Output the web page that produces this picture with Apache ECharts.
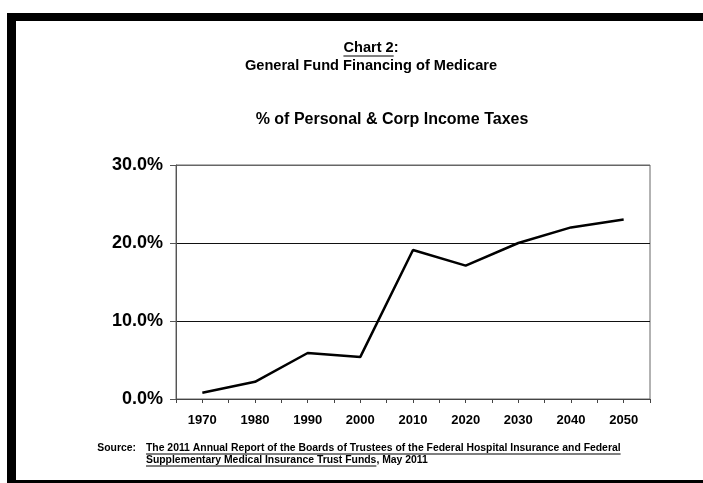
<!DOCTYPE html>
<html>
<head>
<meta charset="utf-8">
<script src="https://cdn.jsdelivr.net/npm/echarts@6/dist/echarts.min.js"></script>
<style>
  html, body { margin: 0; padding: 0; background: #fff; }
  #chart { width: 703px; height: 483px; }
</style>
</head>
<body>
<div id="chart"></div>
<script>
// Decades on the horizontal axis
const years = ['1970', '1980', '1990', '2000', '2010', '2020', '2030', '2040', '2050'];
// General fund financing as % of personal & corporate income taxes
const sharePct = [0.8, 2.2, 5.9, 5.4, 19.1, 17.1, 20.0, 22.0, 23.0];
// Vertical axis ticks (percent)
const yTicks = [0, 10, 20, 30];

const chartLabel = 'Chart 2';
const titleLine2 = 'General Fund Financing of Medicare';
const subTitle = '% of Personal & Corp Income Taxes';
const sourceLabel = 'Source:';
const sourceLine1 = 'The 2011 Annual Report of the Boards of Trustees of the Federal Hospital Insurance and Federal';
const sourceLine2a = 'Supplementary Medical Insurance Trust Funds';
const sourceLine2b = ', May 2011';

const FONT = '"Liberation Sans", Arial, sans-serif';

// text width helper for underlines
const ctx = document.createElement('canvas').getContext('2d');
function textWidth(str, size) {
  ctx.font = 'bold ' + size + 'px ' + FONT;
  return ctx.measureText(str).width;
}

const chart = echarts.init(document.getElementById('chart'), null, { renderer: 'canvas' });

const W = 703;
const titleCx = 371;
const titleSize = 14.6;
const srcSize = 10.4;
const srcX = 146;
const chartW = textWidth(chartLabel, titleSize);
const colonW = textWidth(':', titleSize);
const chartX = titleCx - (chartW + colonW) / 2;

const graphics = [
  // page frame
  { type: 'rect', shape: { x: 7, y: 13, width: W - 7, height: 8 }, style: { fill: '#000' }, silent: true },
  { type: 'rect', shape: { x: 7, y: 13, width: 9, height: 470 }, style: { fill: '#000' }, silent: true },
  { type: 'rect', shape: { x: 7, y: 480, width: W - 7, height: 3 }, style: { fill: '#000' }, silent: true },
  // headings
  { type: 'text', x: chartX, y: 48, style: { text: chartLabel + ':', font: 'bold ' + titleSize + 'px ' + FONT, fill: '#000', textVerticalAlign: 'middle' } },
  { type: 'line', shape: { x1: chartX, y1: 56, x2: chartX + chartW, y2: 56 }, style: { stroke: '#000', lineWidth: 1 } },
  { type: 'text', x: titleCx, y: 66, style: { text: titleLine2, font: 'bold ' + titleSize + 'px ' + FONT, fill: '#000', textAlign: 'center', textVerticalAlign: 'middle' } },
  { type: 'text', x: 392, y: 120, style: { text: subTitle, font: 'bold 16px ' + FONT, fill: '#000', textAlign: 'center', textVerticalAlign: 'middle' } },
  // source note
  { type: 'text', x: srcX - 10, y: 448, style: { text: sourceLabel, font: 'bold ' + srcSize + 'px ' + FONT, fill: '#000', textAlign: 'right', textVerticalAlign: 'middle' } },
  { type: 'text', x: srcX, y: 448, style: { text: sourceLine1, font: 'bold ' + srcSize + 'px ' + FONT, fill: '#000', textVerticalAlign: 'middle' } },
  { type: 'line', shape: { x1: srcX, y1: 454, x2: srcX + textWidth(sourceLine1, srcSize), y2: 454 }, style: { stroke: '#000', lineWidth: 1 } },
  { type: 'text', x: srcX, y: 460, style: { text: sourceLine2a + sourceLine2b, font: 'bold ' + srcSize + 'px ' + FONT, fill: '#000', textVerticalAlign: 'middle' } },
  { type: 'line', shape: { x1: srcX, y1: 466, x2: srcX + textWidth(sourceLine2a, srcSize), y2: 466 }, style: { stroke: '#000', lineWidth: 1 } }
];

const option = {
  animation: false,
  backgroundColor: '#fff',
  grid: {
    left: 176, right: 53, top: 165, bottom: 84,
    show: true, borderColor: '#666', borderWidth: 1, backgroundColor: 'transparent'
  },
  xAxis: [
    {
      type: 'category',
      data: years,
      boundaryGap: true,
      axisLine: { lineStyle: { color: '#444', width: 1 } },
      axisTick: { show: true, length: 4, lineStyle: { color: '#444' } },
      axisLabel: { color: '#000', fontFamily: FONT, fontWeight: 'bold', fontSize: 13, margin: 15 }
    },
    {
      type: 'category',
      data: years,
      boundaryGap: true,
      position: 'bottom',
      axisLine: { show: false },
      axisTick: { show: true, alignWithLabel: true, length: 4, lineStyle: { color: '#444' } },
      axisLabel: { show: false },
      splitLine: { show: false }
    }
  ],
  yAxis: {
    type: 'value',
    min: yTicks[0],
    max: yTicks[yTicks.length - 1],
    interval: 10,
    axisLine: { show: true, lineStyle: { color: '#555', width: 1 } },
    axisTick: { show: true, length: 6, lineStyle: { color: '#555' } },
    axisLabel: {
      color: '#000', fontFamily: FONT, fontWeight: 'bold', fontSize: 18, margin: 13,
      formatter: v => v.toFixed(1) + '%'
    },
    splitLine: { show: true, lineStyle: { color: ['#555', '#111', '#111', '#666'], width: 1 } }
  },
  series: [{
    type: 'line',
    data: sharePct,
    showSymbol: false,
    symbol: 'none',
    lineStyle: { color: '#000', width: 2.5 },
    z: 5
  }],
  graphic: graphics
};

chart.setOption(option);
</script>
</body>
</html>
